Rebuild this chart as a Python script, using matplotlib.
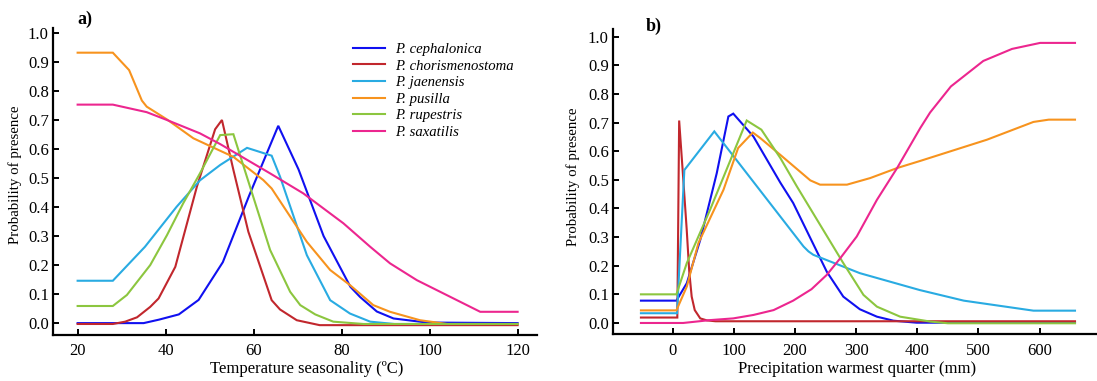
import matplotlib
matplotlib.use("Agg")
import matplotlib.pyplot as plt

plt.rcParams['font.family'] = ['Liberation Serif', 'DejaVu Serif']

species = ["P. cephalonica", "P. chorismenostoma", "P. jaenensis",
           "P. pusilla", "P. rupestris", "P. saxatilis"]
colors = ["#1010F0", "#C1272D", "#29ABE2", "#F7931E", "#8CC63F", "#EC268F"]

# ---- Panel a: Temperature seasonality ----
a_ceph_x = [20, 35, 38.5, 43, 47.5, 53, 59, 65.6, 70.2, 75.9, 82, 84.2, 88, 91.8, 99.4, 120]
a_ceph_y = [0.0, 0.0, 0.012, 0.03, 0.08, 0.21, 0.44, 0.68, 0.53, 0.30, 0.125, 0.09, 0.04, 0.016, 0.002, 0.0]
a_chor_x = [20, 28, 30.8, 33.5, 36.5, 38.4, 42.2, 47.1, 51.25, 52.8, 55.4, 58.8, 64.1, 66, 69.8, 75, 120]
a_chor_y = [-0.003, -0.003, 0.005, 0.02, 0.056, 0.085, 0.194, 0.47, 0.668, 0.70, 0.528, 0.315, 0.079, 0.047, 0.01, -0.007, -0.007]
a_jaen_x = [20, 28, 35.3, 42.5, 47.8, 52.4, 58.5, 64.1, 66, 72.1, 77.4, 81.9, 86.5, 92, 120]
a_jaen_y = [0.146, 0.146, 0.263, 0.401, 0.492, 0.545, 0.604, 0.577, 0.505, 0.234, 0.079, 0.033, 0.005, -0.003, -0.003]
a_pusi_x = [20, 28, 31.7, 34.6, 35.7, 40.3, 46.3, 52.4, 55.4, 62.2, 64.1, 72.1, 77.4, 81.9, 87.2, 91, 97.8, 104, 120]
a_pusi_y = [0.932, 0.932, 0.872, 0.767, 0.746, 0.702, 0.637, 0.594, 0.573, 0.493, 0.464, 0.28, 0.183, 0.131, 0.062, 0.039, 0.01, -0.003, -0.003]
a_rupe_x = [20, 28, 31.2, 36.5, 40.3, 44, 47.8, 52.4, 55.4, 63.75, 68.3, 70.6, 74, 78.1, 85, 120]
a_rupe_y = [0.059, 0.059, 0.097, 0.2, 0.303, 0.413, 0.516, 0.648, 0.651, 0.252, 0.108, 0.062, 0.03, 0.005, -0.003, -0.003]
a_saxa_x = [20, 28, 35.7, 40.3, 47.8, 52.4, 56, 63.75, 71.3, 80.4, 86.5, 91, 97.1, 111.5, 120]
a_saxa_y = [0.753, 0.753, 0.727, 0.70, 0.654, 0.617, 0.585, 0.516, 0.447, 0.344, 0.263, 0.206, 0.148, 0.039, 0.039]

# ---- Panel b: Precipitation warmest quarter ----
b_ceph_x = [-52, 6, 23, 45, 72, 91, 99, 132, 176, 197, 252, 279, 306, 334, 361, 399, 658]
b_ceph_y = [0.078, 0.078, 0.139, 0.29, 0.523, 0.721, 0.731, 0.651, 0.49, 0.419, 0.179, 0.092, 0.048, 0.022, 0.008, 0.001, 0.001]
b_chor_x = [-52, 7.5, 10.5, 16, 22.9, 27, 31, 36, 45, 56, 70, 658]
b_chor_y = [0.019, 0.019, 0.707, 0.54, 0.325, 0.18, 0.092, 0.045, 0.016, 0.009, 0.006, 0.006]
b_jaen_x = [-52, 7, 19, 68, 214, 222, 230, 306, 404, 476, 590, 658]
b_jaen_y = [0.034, 0.034, 0.534, 0.669, 0.267, 0.25, 0.238, 0.174, 0.115, 0.078, 0.043, 0.043]
b_pusi_x = [-52, 6, 23, 42, 83, 107, 131, 143, 176, 225, 241, 285, 323, 367, 405, 514, 590, 615, 658]
b_pusi_y = [0.044, 0.044, 0.127, 0.279, 0.465, 0.611, 0.665, 0.646, 0.587, 0.498, 0.483, 0.483, 0.506, 0.541, 0.566, 0.64, 0.702, 0.71, 0.71]
b_rupe_x = [-52, 6, 23, 61, 121, 145, 176, 203, 279, 312, 334, 372, 421, 450, 658]
b_rupe_y = [0.10, 0.10, 0.209, 0.395, 0.707, 0.675, 0.576, 0.477, 0.209, 0.098, 0.057, 0.022, 0.005, -0.001, -0.001]
b_saxa_x = [-52, 17, 61, 99, 132, 165, 197, 227, 252, 274, 301, 334, 367, 405, 421, 455, 508, 555, 601, 658]
b_saxa_y = [0.0, 0.0, 0.01, 0.016, 0.028, 0.045, 0.078, 0.118, 0.168, 0.226, 0.302, 0.43, 0.541, 0.681, 0.735, 0.826, 0.915, 0.957, 0.978, 0.978]

a_series = [(a_ceph_x, a_ceph_y), (a_chor_x, a_chor_y), (a_jaen_x, a_jaen_y),
            (a_pusi_x, a_pusi_y), (a_rupe_x, a_rupe_y), (a_saxa_x, a_saxa_y)]
b_series = [(b_ceph_x, b_ceph_y), (b_chor_x, b_chor_y), (b_jaen_x, b_jaen_y),
            (b_pusi_x, b_pusi_y), (b_rupe_x, b_rupe_y), (b_saxa_x, b_saxa_y)]

a_xticks = [20, 40, 60, 80, 100, 120]
b_xticks = [0, 100, 200, 300, 400, 500, 600]
yticks = [round(0.1 * i, 1) for i in range(11)]

fig = plt.figure(figsize=(10.97, 3.81), dpi=100)
axa = fig.add_axes([0.0483, 0.1207, 0.4412, 0.805])
axb = fig.add_axes([0.5588, 0.1226, 0.4412, 0.8005])

for ax, series in ((axa, a_series), (axb, b_series)):
    for (xs, ys), c, lab in zip(series, colors, species):
        ax.plot(xs, ys, color=c, lw=1.5, label=lab, solid_joinstyle='miter')
    for s in ('top', 'right'):
        ax.spines[s].set_visible(False)
    for s in ('left', 'bottom'):
        ax.spines[s].set_linewidth(1.6)
    ax.tick_params(direction='in', length=4, width=1.4, labelsize=12, pad=3)
    ax.tick_params(axis='x', pad=6)
    ax.set_yticks(yticks)
    ax.set_yticklabels([f"{v:.1f}" for v in yticks])
    ax.set_ylabel("Probability of presence", fontsize=10.7)

axa.set_xlim(14.4, 124.4)
axa.set_ylim(-0.041, 1.016)
axa.set_xticks(a_xticks)
axa.set_xlabel("Temperature seasonality (\u00baC)", fontsize=12)
axa.yaxis.set_label_coords(-0.064, 0.522)
axa.xaxis.set_label_coords(0.524, -0.085)

axb.set_xlim(-97.7, 694)
axb.set_ylim(-0.0395, 1.0255)
axb.set_xticks(b_xticks)
axb.set_xlabel("Precipitation warmest quarter (mm)", fontsize=12)
axb.yaxis.set_label_coords(-0.068, 0.517)
axb.xaxis.set_label_coords(0.505, -0.088)

fig.text(77 / 1097, 1 - 19 / 381, "a)", fontsize=13, fontweight='bold', va='center', ha='left')
fig.text(646 / 1097, 1 - 26.5 / 381, "b)", fontsize=13, fontweight='bold', va='center', ha='left')

leg = axa.legend(loc='upper left', bbox_to_anchor=(0.62, 0.953), frameon=False,
                 prop={'style': 'italic', 'size': 10.6}, borderaxespad=0, borderpad=0,
                 handlelength=2.2, handletextpad=0.65, labelspacing=0.22)

fig.savefig("out.png", dpi=100)
